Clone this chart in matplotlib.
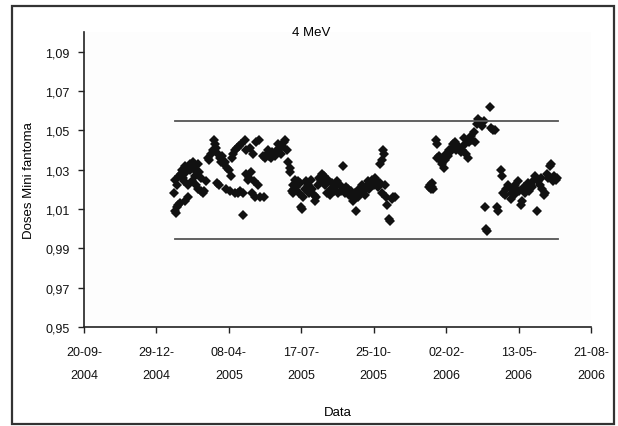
import matplotlib
matplotlib.use("Agg")
import matplotlib.pyplot as plt
import pandas as pd
from matplotlib.patches import Rectangle

plt.rcParams['font.family'] = ['Liberation Sans', 'DejaVu Sans']

title = "4 MeV"
xlabel = "Data"
ylabel = "Doses Mini fantoma"

dates = [
    # Jan-Mar 2005
    "2005-01-22", "2005-01-23", "2005-01-24", "2005-01-25", "2005-01-26", "2005-01-27",
    "2005-01-28", "2005-01-29", "2005-01-30", "2005-02-01", "2005-02-02", "2005-02-03",
    "2005-02-05", "2005-02-06", "2005-02-07", "2005-02-08", "2005-02-10", "2005-02-11",
    "2005-02-13", "2005-02-14", "2005-02-16", "2005-02-17", "2005-02-18", "2005-02-20",
    "2005-02-21", "2005-02-23", "2005-02-24", "2005-02-25", "2005-02-26", "2005-02-28",
    "2005-03-01", "2005-03-03", "2005-03-04", "2005-03-07",
    # Mar-May 2005
    "2005-03-10", "2005-03-12", "2005-03-14", "2005-03-17", "2005-03-19", "2005-03-20",
    "2005-03-21", "2005-03-22", "2005-03-24", "2005-03-25", "2005-03-27", "2005-03-28",
    "2005-03-30", "2005-04-01", "2005-04-03", "2005-04-04", "2005-04-06", "2005-04-08",
    "2005-04-09", "2005-04-11", "2005-04-12", "2005-04-14", "2005-04-16", "2005-04-17",
    "2005-04-19", "2005-04-20", "2005-04-22", "2005-04-23", "2005-04-25", "2005-04-27",
    "2005-04-28", "2005-04-30", "2005-05-01", "2005-05-02", "2005-05-04", "2005-05-06",
    "2005-05-07", "2005-05-09", "2005-05-10", "2005-05-11", "2005-05-13", "2005-05-14",
    "2005-05-16", "2005-05-18", "2005-05-19", "2005-05-21", "2005-05-26",
    # May-Jul 2005
    "2005-05-25", "2005-05-28", "2005-05-30", "2005-06-01", "2005-06-03", "2005-06-05",
    "2005-06-07", "2005-06-09", "2005-06-11", "2005-06-13", "2005-06-15", "2005-06-17",
    "2005-06-19", "2005-06-21", "2005-06-23", "2005-06-25", "2005-06-27", "2005-06-29",
    "2005-07-01", "2005-07-02",
    # Jul-Nov 2005
    "2005-07-04", "2005-07-05", "2005-07-06", "2005-07-07", "2005-07-09", "2005-07-10",
    "2005-07-12", "2005-07-14", "2005-07-15", "2005-07-17", "2005-07-18", "2005-07-20",
    "2005-07-22", "2005-07-24", "2005-07-26", "2005-07-28", "2005-07-30", "2005-08-01",
    "2005-08-03", "2005-08-05", "2005-08-07", "2005-08-09", "2005-08-11", "2005-08-13",
    "2005-08-15", "2005-08-17", "2005-08-19", "2005-08-21", "2005-08-23", "2005-08-25",
    "2005-08-27", "2005-08-29", "2005-08-31", "2005-09-02", "2005-09-04", "2005-09-06",
    "2005-09-08", "2005-09-10", "2005-09-13", "2005-09-15", "2005-09-17", "2005-09-19",
    "2005-09-21", "2005-09-23", "2005-09-25", "2005-09-27", "2005-09-29", "2005-10-01",
    "2005-10-03", "2005-10-05", "2005-10-07", "2005-10-09", "2005-10-11", "2005-10-13",
    "2005-10-15", "2005-10-17", "2005-10-19", "2005-10-21", "2005-10-23", "2005-10-25",
    "2005-10-27", "2005-10-29", "2005-10-31", "2005-11-02", "2005-11-03", "2005-11-05",
    "2005-11-06", "2005-11-07", "2005-11-08", "2005-11-09", "2005-11-11", "2005-11-13",
    "2005-11-15", "2005-11-16", "2005-11-19", "2005-11-21", "2005-11-23",
    # Jan 2006
    "2006-01-10", "2006-01-11", "2006-01-12", "2006-01-13", "2006-01-14", "2006-01-15",
    # Jan-Apr 2006
    "2006-01-19", "2006-01-20", "2006-01-21", "2006-01-23", "2006-01-25", "2006-01-27",
    "2006-01-28", "2006-01-30", "2006-02-01", "2006-02-02", "2006-02-04", "2006-02-06",
    "2006-02-08", "2006-02-10", "2006-02-12", "2006-02-14", "2006-02-16", "2006-02-18",
    "2006-02-20", "2006-02-22", "2006-02-24", "2006-02-26", "2006-02-28", "2006-03-02",
    "2006-03-04", "2006-03-06", "2006-03-08", "2006-03-10", "2006-03-12", "2006-03-14",
    "2006-03-16", "2006-03-18", "2006-03-20", "2006-03-22", "2006-03-24", "2006-03-26",
    "2006-04-03", "2006-04-05", "2006-04-08", "2006-04-11",
    # Mar-Jul 2006
    "2006-03-27", "2006-03-29", "2006-03-30", "2006-04-13", "2006-04-14", "2006-04-19",
    "2006-04-20", "2006-04-22", "2006-04-24", "2006-04-26", "2006-04-28", "2006-04-30",
    "2006-05-02", "2006-05-04", "2006-05-06", "2006-05-08", "2006-05-10", "2006-05-12",
    "2006-05-14", "2006-05-16", "2006-05-18", "2006-05-20", "2006-05-22", "2006-05-24",
    "2006-05-26", "2006-05-28", "2006-05-30", "2006-06-01", "2006-06-03", "2006-06-05",
    "2006-06-07", "2006-06-09", "2006-06-11", "2006-06-13", "2006-06-15", "2006-06-17",
    "2006-06-19", "2006-06-21", "2006-06-23", "2006-06-25", "2006-06-27", "2006-06-29",
    "2006-07-01", "2006-07-03", "2006-07-05",
]

doses = [
    1.018, 1.025, 1.009, 1.008, 1.022, 1.011,
    1.012, 1.027, 1.013, 1.028, 1.030, 1.026,
    1.024, 1.014, 1.032, 1.029, 1.016, 1.022,
    1.033, 1.030, 1.024, 1.031, 1.034, 1.027,
    1.022, 1.029, 1.033, 1.020, 1.029, 1.019,
    1.026, 1.018, 1.019, 1.024,
    1.036, 1.035, 1.038, 1.040, 1.045, 1.043,
    1.041, 1.023, 1.038, 1.022, 1.036, 1.034,
    1.037, 1.033, 1.034, 1.020, 1.031, 1.030,
    1.019, 1.027, 1.036, 1.038, 1.018, 1.040,
    1.041, 1.018, 1.042, 1.019, 1.043, 1.007,
    1.018, 1.045, 1.040, 1.028, 1.025, 1.026,
    1.041, 1.029, 1.018, 1.038, 1.024, 1.016,
    1.044, 1.022, 1.045, 1.016, 1.016,
    1.037, 1.036, 1.038, 1.040, 1.037, 1.036,
    1.039, 1.038, 1.037, 1.040, 1.043, 1.041,
    1.038, 1.042, 1.044, 1.045, 1.040, 1.034,
    1.031, 1.029,
    1.019, 1.018, 1.022, 1.020, 1.025, 1.021,
    1.024, 1.018, 1.023, 1.011, 1.010, 1.016,
    1.020, 1.024, 1.022, 1.018, 1.025, 1.020,
    1.017, 1.014, 1.016, 1.022, 1.026, 1.024,
    1.028, 1.027, 1.022, 1.018, 1.025, 1.017,
    1.020, 1.023, 1.019, 1.021, 1.024, 1.018,
    1.022, 1.019, 1.032, 1.018, 1.021, 1.020,
    1.017, 1.019, 1.016, 1.014, 1.018, 1.009,
    1.016, 1.020, 1.018, 1.022, 1.019, 1.017,
    1.021, 1.024, 1.020, 1.023, 1.025, 1.022,
    1.026, 1.024, 1.021, 1.023, 1.033, 1.035,
    1.018, 1.040, 1.038, 1.022, 1.016, 1.012,
    1.005, 1.004, 1.015, 1.016, 1.016,
    1.021, 1.022, 1.020, 1.023, 1.021, 1.020,
    1.045, 1.043, 1.036, 1.037, 1.035, 1.033,
    1.036, 1.031, 1.035, 1.038, 1.037, 1.040,
    1.039, 1.041, 1.043, 1.044, 1.040, 1.042,
    1.041, 1.039, 1.040, 1.046, 1.043, 1.038,
    1.036, 1.044, 1.047, 1.045, 1.049, 1.044,
    1.053, 1.056, 1.055, 1.054, 1.052, 1.055,
    1.062, 1.051, 1.050, 1.050,
    1.011, 1.000, 0.999, 1.011, 1.009, 1.030,
    1.027, 1.018, 1.017, 1.020, 1.022, 1.021,
    1.015, 1.018, 1.017, 1.022, 1.020, 1.024,
    1.019, 1.012, 1.014, 1.021, 1.018, 1.020,
    1.023, 1.019, 1.022, 1.021, 1.025, 1.027,
    1.009, 1.024, 1.022, 1.026, 1.020, 1.017,
    1.018, 1.028, 1.026, 1.032, 1.033, 1.024,
    1.027, 1.025, 1.026,
]

limit_start = "2005-01-24"
limit_end = "2006-07-07"
upper_limit = 1.055
lower_limit = 0.995

x_start = "2004-09-20"
x_end = "2006-08-21"
tick_step_days = 100
y_ticks = [0.95, 0.97, 0.99, 1.01, 1.03, 1.05, 1.07, 1.09]

fig = plt.figure(figsize=(6.18, 4.27), dpi=100)
ax = fig.add_axes([84 / 618, 1 - 328 / 427, (591 - 84) / 618, (328 - 33) / 427])
ax.set_facecolor('#fdfdfd')

x = pd.to_datetime(dates)
ax.plot(x, doses, linestyle='none', marker='D', markersize=5.3,
        color='#111111', markeredgewidth=0)

ls, le = pd.to_datetime([limit_start, limit_end])
ax.plot([ls, le], [upper_limit, upper_limit], color='#555555', lw=1.3)
ax.plot([ls, le], [lower_limit, lower_limit], color='#555555', lw=1.3)

xs, xe = pd.to_datetime([x_start, x_end])
ax.set_xlim(xs, xe)
ticks = pd.date_range(xs, xe, freq=f"{tick_step_days}D")
ax.set_xticks(ticks)
ax.set_xticklabels([t.strftime("%d-%m-\n%Y") for t in ticks], linespacing=2.2)
ax.set_ylim(0.95, 1.10)
ax.set_yticks(y_ticks)
ax.set_yticklabels([f"{v:.2f}".replace('.', ',') for v in y_ticks])

for s in ['top', 'right']:
    ax.spines[s].set_visible(False)
for s in ['left', 'bottom']:
    ax.spines[s].set_color('#222222')
    ax.spines[s].set_linewidth(1.2)
ax.tick_params(axis='both', direction='out', length=4.5, width=1.0, colors='#222222',
               labelsize=9, labelcolor='#111111')
ax.tick_params(axis='x', pad=9)
ax.tick_params(axis='y', pad=6)

ax.set_title(title, fontsize=9.5, pad=0, x=0.448, y=0.99)
ax.set_xlabel(xlabel, fontsize=9.5, labelpad=18)
ax.set_ylabel(ylabel, fontsize=9.5, labelpad=7)

fig.patches.append(Rectangle((12 / 618, 0.004), (614 - 12) / 618, 1 - 7 / 427 - 0.004,
                             transform=fig.transFigure, fill=False,
                             edgecolor='#333333', linewidth=1.6))

fig.savefig("out.png", dpi=100)
